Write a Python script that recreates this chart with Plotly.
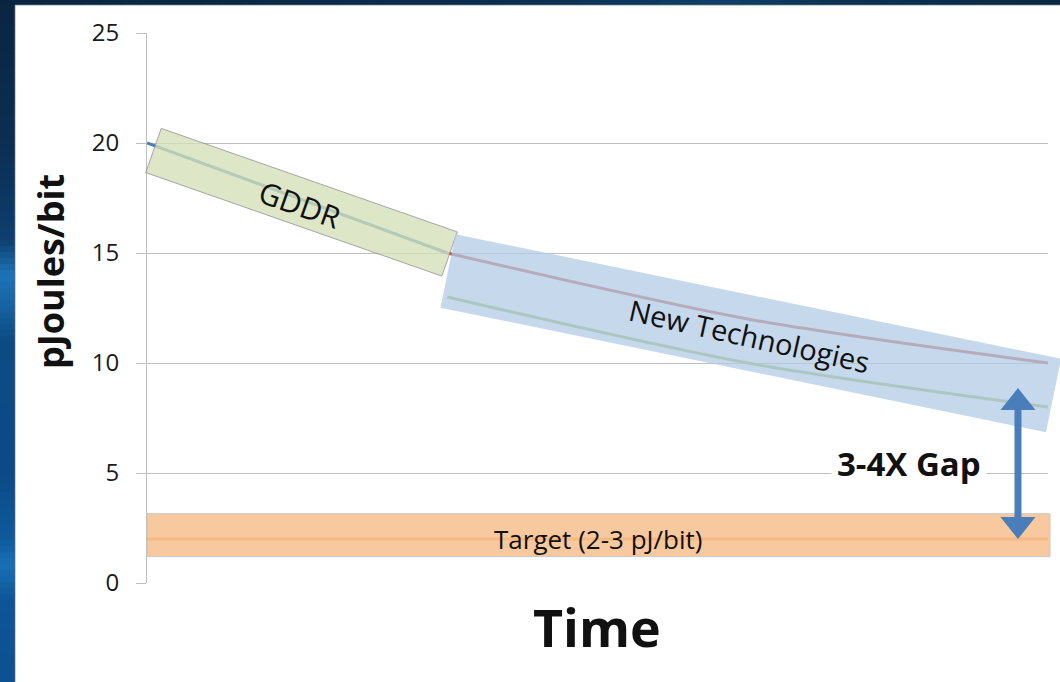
import math
import plotly.graph_objects as go

# ---- data -------------------------------------------------------------
time_idx = [0, 1, 2, 3]

gddr_x = [0, 1]
gddr_y = [20, 15]

newtech_hi_x = [1, 2, 3]
newtech_hi_y = [15, 12, 10]

newtech_lo_x = [1, 2, 3]
newtech_lo_y = [13, 10, 8]

target_x = [0, 1, 2, 3]
target_y = [2, 2, 2, 2]
target_band = (1.2, 3.15)          # pJ/bit range shaded as the target

gap_top = 8.86                      # end points of the "3-4X Gap" arrow
gap_bottom = 2.0
gap_x = 2.9

y_ticks = [0, 5, 10, 15, 20, 25]

# ---- page geometry ------------------------------------------------------
W, H = 1060, 682
ML, MR, MT, MB = 147, 12, 33, 99
PW, PH = W - ML - MR, H - MT - MB
XR = (0, 3)
YR = (0, 25)


def to_px(x, y):
    return (ML + (x - XR[0]) / (XR[1] - XR[0]) * PW,
            MT + (YR[1] - y) / (YR[1] - YR[0]) * PH)


def to_data(px, py):
    return (XR[0] + (px - ML) / PW * (XR[1] - XR[0]),
            YR[1] - (py - MT) / PH * (YR[1] - YR[0]))


def pxx(px):
    return (px - ML) / PW


def pxy(py):
    return (H - MB - py) / PH


def band_path(a, b, half):
    """Rotated rectangle (pixel centre line a->b, half height) as a paper path."""
    dx, dy = b[0] - a[0], b[1] - a[1]
    L = math.hypot(dx, dy)
    nx, ny = -dy / L * half, dx / L * half
    pts = [(a[0] - nx, a[1] - ny), (b[0] - nx, b[1] - ny),
           (b[0] + nx, b[1] + ny), (a[0] + nx, a[1] + ny)]
    return "M " + " L ".join(f"{pxx(x):.5f},{pxy(y):.5f}" for x, y in pts) + " Z"


def shift(p, dx, dy):
    return (p[0] + dx, p[1] + dy)


FONT = "Open Sans"
BLUE = "#4a7ebb"
RED = "#be4b48"
GREEN = "#98b954"
ORANGE = "#f79646"

fig = go.Figure()

for xs, ys, col in [(gddr_x, gddr_y, BLUE),
                    (newtech_hi_x, newtech_hi_y, RED),
                    (newtech_lo_x, newtech_lo_y, GREEN),
                    (target_x, target_y, ORANGE)]:
    fig.add_trace(go.Scatter(x=xs, y=ys, mode="lines",
                             line=dict(color=col, width=3, shape="spline", smoothing=0.8),
                             hoverinfo="skip", showlegend=False, cliponaxis=False))

shapes = []

# page background: dark frame with a white slide panel
shapes.append(dict(type="rect", xref="paper", yref="paper", layer="below",
                   x0=pxx(15), x1=pxx(W + 5), y0=pxy(H + 5), y1=pxy(5),
                   fillcolor="white", line=dict(color="#9aa4ae", width=1)))

# streaky blue edge on the left
left_stops = [(0, "#0a2540"), (150, "#0b2f52"), (240, "#0d3f6e"), (275, "#1d74b8"),
              (300, "#1766a6"), (340, "#0c4b82"), (470, "#0b4a85"), (540, "#0f5a9c"),
              (565, "#1a6fb5"), (600, "#0d5596"), (682, "#0c5190")]


def lerp_col(c1, c2, t):
    a = [int(c1[i:i + 2], 16) for i in (1, 3, 5)]
    b = [int(c2[i:i + 2], 16) for i in (1, 3, 5)]
    return "#" + "".join(f"{int(round(a[k] + (b[k] - a[k]) * t)):02x}" for k in range(3))


step = 6
for y0 in range(0, H, step):
    ym = y0 + step / 2
    for (ya, ca), (yb, cb) in zip(left_stops[:-1], left_stops[1:]):
        if ya <= ym <= yb:
            col = lerp_col(ca, cb, (ym - ya) / (yb - ya))
            break
    shapes.append(dict(type="rect", xref="paper", yref="paper", layer="below",
                       x0=pxx(-1), x1=pxx(14.5), y0=pxy(y0 + step + 0.5), y1=pxy(y0),
                       fillcolor=col, line=dict(width=0)))

# slightly lighter glow in the top strip
top_stops = [(0, "#0a2540"), (500, "#0b2d4e"), (720, "#0f4068"), (820, "#0c3456"), (1060, "#0a2744")]
stepx = 20
for x0 in range(0, W, stepx):
    xm = x0 + stepx / 2
    for (xa, ca), (xb, cb) in zip(top_stops[:-1], top_stops[1:]):
        if xa <= xm <= xb:
            col = lerp_col(ca, cb, (xm - xa) / (xb - xa))
            break
    shapes.append(dict(type="rect", xref="paper", yref="paper", layer="below",
                       x0=pxx(max(x0, 15)), x1=pxx(x0 + stepx + 0.5), y0=pxy(4.5), y1=pxy(-1),
                       fillcolor=col, line=dict(width=0)))

# GDDR highlight band
g0 = to_px(gddr_x[0], gddr_y[0])
g1 = to_px(gddr_x[-1], gddr_y[-1])
shapes.append(dict(type="path", xref="paper", yref="paper", layer="above",
                   path=band_path(shift(g0, 6.5, 7.5), shift(g1, 2.2, 1.0), 23.4),
                   fillcolor="#d4e0b7", opacity=0.78,
                   line=dict(color="#8c8c8c", width=1)))

# New technologies highlight band
n0 = to_px(newtech_hi_x[0], (newtech_hi_y[0] + newtech_lo_y[0]) / 2)
n1 = to_px(newtech_hi_x[-1], (newtech_hi_y[-1] + newtech_lo_y[-1]) / 2)
shapes.append(dict(type="path", xref="paper", yref="paper", layer="above",
                   path=band_path(shift(n0, 0.7, -4.0), shift(n1, 5.5, 10.5), 37.5),
                   fillcolor="#b3cbe4", opacity=0.75, line=dict(width=0)))

# target band
tb_x0, _ = to_px(target_x[0], 0)
tb_x1, _ = to_px(target_x[-1], 0)
shapes.append(dict(type="rect", xref="paper", yref="y", layer="above",
                   x0=pxx(tb_x0), x1=pxx(tb_x1 + 2),
                   y0=target_band[0], y1=target_band[1],
                   fillcolor="#f8bf8f", opacity=0.86,
                   line=dict(color="#c0c0c0", width=1)))

# double-headed gap arrow
head_h = 1.0
head_w = 17.5 / PW * (XR[1] - XR[0])
shapes.append(dict(type="line", xref="x", yref="y", layer="above",
                   x0=gap_x, x1=gap_x, y0=gap_bottom + head_h * 0.6, y1=gap_top - head_h * 0.6,
                   line=dict(color=BLUE, width=7)))
shapes.append(dict(type="path", xref="x", yref="y", layer="above",
                   path=(f"M {gap_x},{gap_top} L {gap_x + head_w},{gap_top - head_h} "
                         f"L {gap_x - head_w},{gap_top - head_h} Z"),
                   fillcolor=BLUE, line=dict(width=0)))
shapes.append(dict(type="path", xref="x", yref="y", layer="above",
                   path=(f"M {gap_x},{gap_bottom} L {gap_x + head_w},{gap_bottom + head_h} "
                         f"L {gap_x - head_w},{gap_bottom + head_h} Z"),
                   fillcolor=BLUE, line=dict(width=0)))

annotations = [
    dict(text="GDDR", x=to_data(300, 204)[0], y=to_data(300, 204)[1], xref="x", yref="y",
         textangle=19.5, showarrow=False, font=dict(family=FONT, size=30, color="#111111")),
    dict(text="New Technologies", x=to_data(749, 335)[0], y=to_data(749, 335)[1],
         xref="x", yref="y", textangle=12.5, showarrow=False,
         font=dict(family=FONT, size=29, color="#111111")),
    dict(text="Target (2-3 pJ/bit)", x=(target_x[0] + target_x[-1]) / 2, y=target_y[0],
         xref="x", yref="y", showarrow=False,
         font=dict(family=FONT, size=26, color="#111111")),
    dict(text="<b>3-4X Gap</b>", x=to_data(909, 463)[0], y=to_data(909, 463)[1],
         xref="x", yref="y", showarrow=False, bgcolor="white", borderpad=5,
         font=dict(family=FONT, size=33, color="#111111")),
    dict(text="<b>Time</b>", x=pxx(597), y=pxy(626), xref="paper", yref="paper",
         xanchor="center", yanchor="middle",
         showarrow=False, font=dict(family=FONT, size=52, color="#111111")),
    dict(text="<b>pJoules/bit</b>", x=pxx(50), y=pxy(272), xref="paper", yref="paper",
         xanchor="center", yanchor="middle",
         textangle=-90, showarrow=False, font=dict(family=FONT, size=36, color="#111111")),
]

fig.update_layout(
    width=W, height=H,
    margin=dict(l=ML, r=MR, t=MT, b=MB),
    paper_bgcolor="#0a2540",
    plot_bgcolor="white",
    shapes=shapes,
    annotations=annotations,
    showlegend=False,
    xaxis=dict(range=list(XR), showgrid=False, zeroline=False, showticklabels=False,
               ticks="", showline=False, fixedrange=True),
    yaxis=dict(range=list(YR), tickvals=y_ticks, showgrid=True, gridcolor="#bfbfbf",
               gridwidth=1, zeroline=False, showline=True, linecolor="#bfbfbf", linewidth=1,
               ticks="outside", ticklen=10, tickcolor="#bfbfbf", tickwidth=1,
               ticklabelstandoff=12,
               tickfont=dict(family=FONT, size=24, color="#1a1a1a"), fixedrange=True),
)

fig.write_html("out.html", config={"displayModeBar": False})
